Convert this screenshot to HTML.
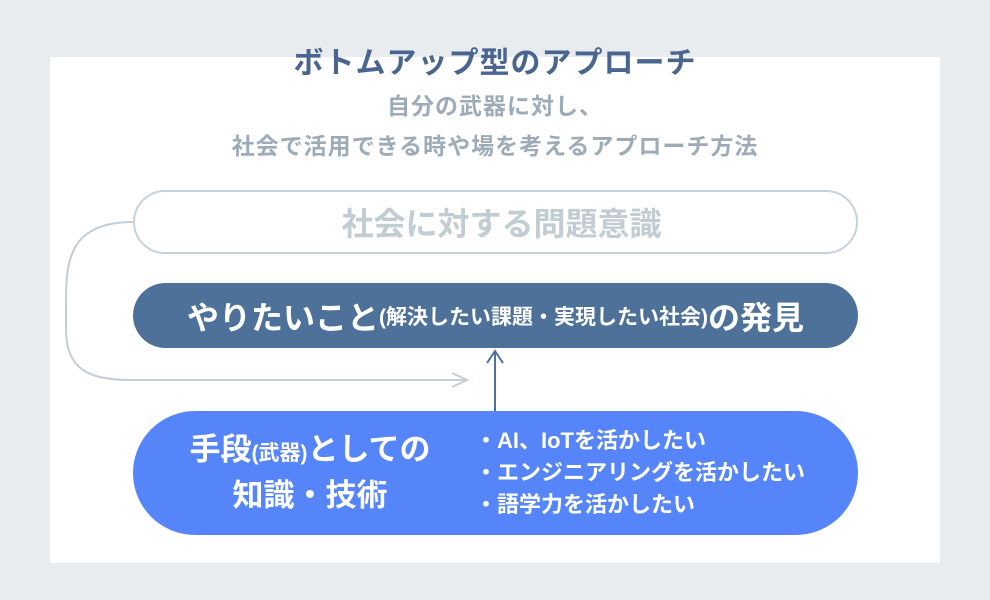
<!DOCTYPE html>
<html><head><meta charset="utf-8"><style>
body{margin:0;width:990px;height:600px;background:#e8ecee;font-family:"Liberation Sans","Noto Sans CJK JP",sans-serif;position:relative;overflow:hidden}
.p{position:absolute;left:50px;top:57px;width:890px;height:506px;background:#fff}
.t{position:absolute;left:0;width:990px;text-align:center;font-weight:bold}
.box{position:absolute;left:133px;width:725px;box-sizing:border-box;display:flex;align-items:center;justify-content:center;font-weight:bold}
</style></head><body>
<div class="p"></div>
<div class="t" style="top:38px;font-size:30px;color:#4a6690;letter-spacing:1px">ボトムアップ型のアプローチ</div>
<div class="t" style="top:86px;font-size:23px;color:#9dabb8;line-height:40px;letter-spacing:1px">自分の武器に対し、<br>社会で活用できる時や場を考えるアプローチ方法</div>
<svg style="position:absolute;left:0;top:0" width="990" height="600">
<path d="M133 222 C 70 222, 66 260, 66 300 L66 330 C66 370, 90 380, 130 380 L466 380" fill="none" stroke="#c3cdd4" stroke-width="2"/>
<path d="M452 373 L467 380 L452 387" fill="none" stroke="#c3cdd4" stroke-width="2"/>
<line x1="495" y1="352" x2="495" y2="411" stroke="#4d7199" stroke-width="2"/>
<path d="M487 363 L495 351 L503 363" fill="none" stroke="#4d7199" stroke-width="2"/>
</svg>
<div class="box" style="top:190px;height:64px;border:2px solid #c8d1d7;border-radius:32px;color:#c2ccd3;font-size:32px;padding-left:12px">社会に対する問題意識</div>
<div class="box" style="top:283px;height:65px;background:#4d7199;border-radius:33px;color:#fff;font-size:32px">やりたいこと<span style="font-size:21px">(解決したい課題・実現したい社会)</span>の発見</div>
<div class="box" style="top:411px;height:124px;background:#5585f8;border-radius:62px;color:#fff;justify-content:flex-start">
<div style="position:absolute;left:38px;width:278px;text-align:center;font-size:31px;line-height:42px">手段<span style="font-size:21px">(武器)</span>としての<br>知識・技術</div>
<div style="position:absolute;left:342px;font-size:22px;line-height:32px">・AI、IoTを活かしたい<br>・エンジニアリングを活かしたい<br>・語学力を活かしたい</div>
</div>
</body></html>
